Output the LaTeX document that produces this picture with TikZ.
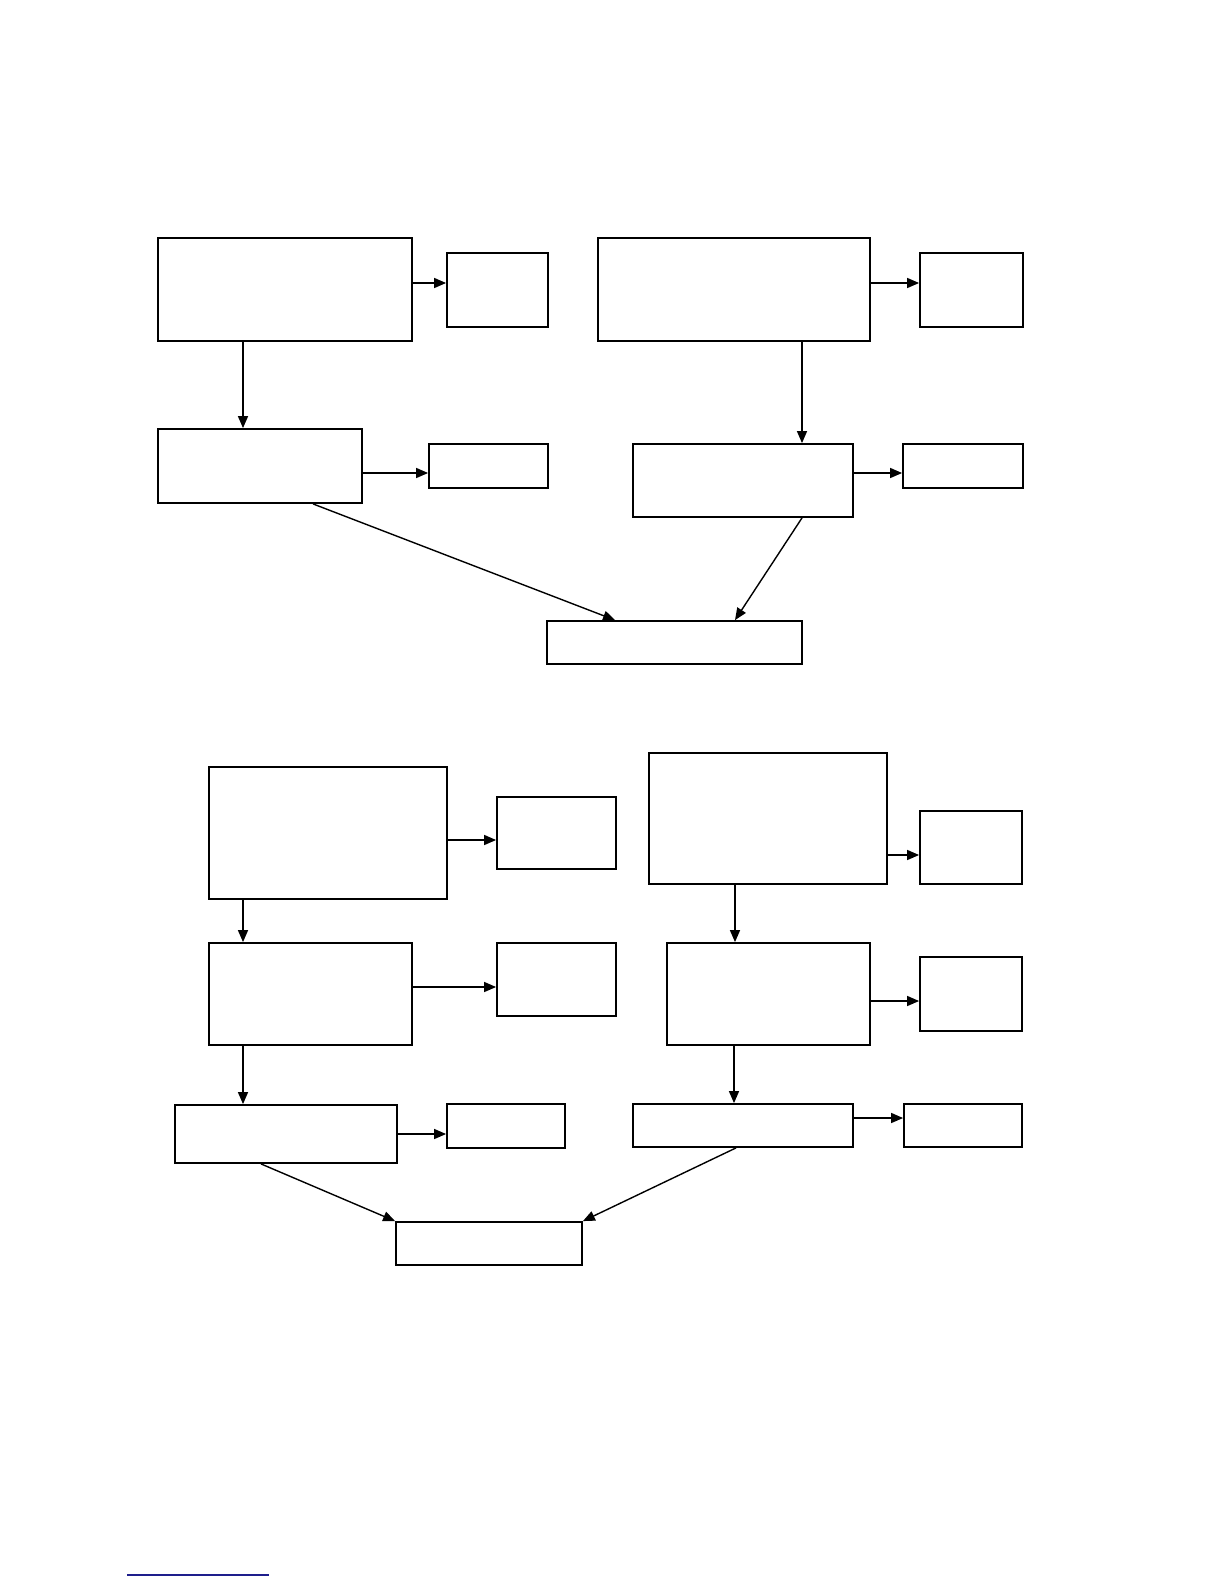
\documentclass[tikz,border=0pt]{standalone}
\usetikzlibrary{arrows.meta,fit}
\definecolor{linkblue}{RGB}{30,30,140}
\tikzset{
  box/.style={draw=black, line width=0.9pt, inner sep=0pt, fill=white},
  arr/.style={draw=black, line width=0.7pt, -{Triangle[length=6pt,width=5pt]}}
}
\begin{document}
\begin{tikzpicture}[x=0.5pt,y=-0.5pt]
\useasboundingbox[fill=white] (0,0) rectangle (1224,1584);
% top half
\node[box, fit={(158,238) (412,341)}] (A1) {};
\node[box, fit={(447,253) (548,327)}] (A1s) {};
\node[box, fit={(598,238) (870,341)}] (B1) {};
\node[box, fit={(920,253) (1023,327)}] (B1s) {};
\node[box, fit={(158,429) (362,503)}] (A2) {};
\node[box, fit={(429,444) (548,488)}] (A2s) {};
\node[box, fit={(633,444) (853,517)}] (B2) {};
\node[box, fit={(903,444) (1023,488)}] (B2s) {};
\node[box, fit={(547,621) (802,664)}] (C) {};
\draw[arr] (A1.east |- 0,283) -- (A1s.west |- 0,283);
\draw[arr] (B1.east |- 0,283) -- (B1s.west |- 0,283);
\draw[arr] (A1.south -| 243,0) -- (A2.north -| 243,0);
\draw[arr] (B1.south -| 802,0) -- (B2.north -| 802,0);
\draw[arr] (A2.east |- 0,473) -- (A2s.west |- 0,473);
\draw[arr] (B2.east |- 0,473) -- (B2s.west |- 0,473);
\draw[arr] (A2.south -| 313,0) -- (C.north -| 615,0);
\draw[arr] (B2.south -| 802,0) -- (C.north -| 735,0);
% bottom half
\node[box, fit={(209,767) (447,899)}] (D1) {};
\node[box, fit={(497,797) (616,869)}] (D1s) {};
\node[box, fit={(649,753) (887,884)}] (E1) {};
\node[box, fit={(920,811) (1022,884)}] (E1s) {};
\node[box, fit={(209,943) (412,1045)}] (D2) {};
\node[box, fit={(497,943) (616,1016)}] (D2s) {};
\node[box, fit={(667,943) (870,1045)}] (E2) {};
\node[box, fit={(920,957) (1022,1031)}] (E2s) {};
\node[box, fit={(175,1105) (397,1163)}] (D3) {};
\node[box, fit={(447,1104) (565,1148)}] (D3s) {};
\node[box, fit={(633,1104) (853,1147)}] (E3) {};
\node[box, fit={(904,1104) (1022,1147)}] (E3s) {};
\node[box, fit={(396,1222) (582,1265)}] (F) {};
\draw[arr] (D1.east |- 0,840) -- (D1s.west |- 0,840);
\draw[arr] (E1.east |- 0,855) -- (E1s.west |- 0,855);
\draw[arr] (D1.south -| 243,0) -- (D2.north -| 243,0);
\draw[arr] (E1.south -| 735,0) -- (E2.north -| 735,0);
\draw[arr] (D2.east |- 0,987) -- (D2s.west |- 0,987);
\draw[arr] (E2.east |- 0,1001) -- (E2s.west |- 0,1001);
\draw[arr] (D2.south -| 243,0) -- (D3.north -| 243,0);
\draw[arr] (E2.south -| 734,0) -- (E3.north -| 734,0);
\draw[arr] (D3.east |- 0,1134) -- (D3s.west |- 0,1134);
\draw[arr] (E3.east |- 0,1118) -- (E3s.west |- 0,1118);
\draw[arr] (D3.south -| 261,0) -- (F.north west);
\draw[arr] (E3.south -| 736,0) -- (F.north east);
% footnote rule
\draw[linkblue, line width=0.6pt] (127,1575) -- (269,1575);
\end{tikzpicture}
\end{document}
